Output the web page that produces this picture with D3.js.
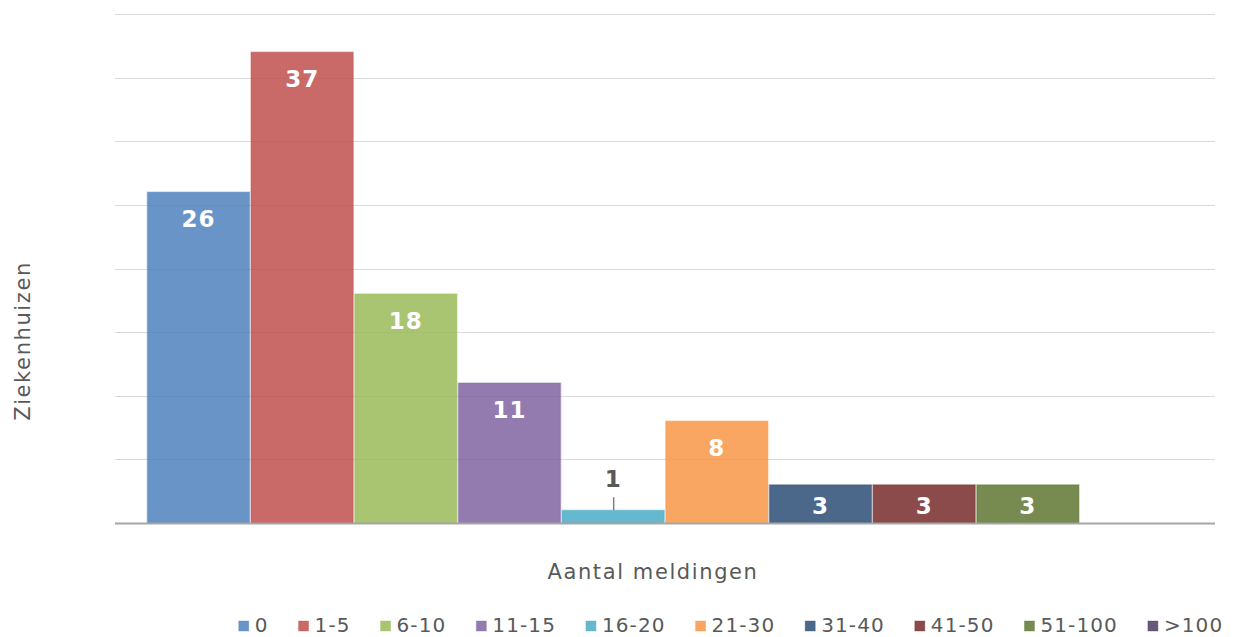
<!DOCTYPE html>
<html><head><meta charset="utf-8">
<script src="https://cdn.jsdelivr.net/npm/d3@7"></script>
<style>
html,body{margin:0;padding:0;background:#fff;}
text{font-family:"DejaVu Sans",Verdana,sans-serif;}
</style></head>
<body>
<svg id="chart" width="1239" height="637"></svg>
<script>
const categories = ["0","1-5","6-10","11-15","16-20","21-30","31-40","41-50","51-100",">100"];
const values = [26,37,18,11,1,8,3,3,3,0];
const colors = ["#4F81BD","#C0504D","#9BBB59","#8064A2","#4BACC6","#F79646","#2C4D75","#772C2A","#5F7530","#4D3B62"];
const yTicks = [0,5,10,15,20,25,30,35,40];
const xTitle = "Aantal meldingen";
const yTitle = "Ziekenhuizen";

const svg = d3.select("#chart");
const plot = {left:115, right:1215, top:14, bottom:523};

const y = d3.scaleLinear().domain([0,40]).range([plot.bottom, plot.top]);
const group = d3.scaleBand().domain(["all"]).range([plot.left, plot.right]).paddingOuter(0.0305).paddingInner(0);
const x = d3.scaleBand().domain(categories).range([group("all"), group("all")+group.bandwidth()]).padding(0);

// gridlines
svg.append("g").selectAll("line").data(yTicks.filter(d=>d>0)).join("line")
  .attr("x1",plot.left).attr("x2",plot.right)
  .attr("y1",d=>Math.round(y(d))+0.5).attr("y2",d=>Math.round(y(d))+0.5)
  .attr("stroke","#D9D9D9").attr("stroke-width",1);

// bars
const data = categories.map((c,i)=>({c, v:values[i], col:colors[i]}));
svg.append("g").selectAll("rect").data(data.filter(d=>d.v>0)).join("rect")
  .attr("x",d=>x(d.c)+0.75).attr("width",x.bandwidth()-1.5)
  .attr("y",d=>y(d.v)).attr("height",d=>y(0)-y(d.v))
  .attr("fill",d=>d.col).attr("fill-opacity",0.85)
  .attr("stroke",d=>d.col).attr("stroke-opacity",0.35).attr("stroke-width",1.5);

// baseline
svg.append("line").attr("x1",plot.left).attr("x2",plot.right)
  .attr("y1",y(0)+0.5).attr("y2",y(0)+0.5).attr("stroke","#A6A6A6").attr("stroke-width",2);

// labels
const lab = svg.append("g");
data.filter(d=>d.v>0).forEach(d=>{
  const h = y(0)-y(d.v);
  const cx = x(d.c)+x.bandwidth()/2;
  if (h < 30) {
    lab.append("line").attr("x1",cx+0.5).attr("x2",cx+0.5)
      .attr("y1",y(d.v)-13).attr("y2",y(d.v)).attr("stroke","#7F7F7F").attr("stroke-width",1.5);
    lab.append("text").attr("x",cx).attr("y",y(d.v)-23).attr("text-anchor","middle")
      .attr("font-size",23).attr("font-weight","bold").attr("fill","#595959")
      .attr("letter-spacing",1).text(d.v);
  } else {
    lab.append("text").attr("x",cx).attr("y",y(d.v)+Math.min(35,h/2+10)).attr("text-anchor","middle")
      .attr("font-size",23).attr("font-weight","bold").attr("fill","#fff")
      .attr("letter-spacing",1).text(d.v);
  }
});

// axis titles
svg.append("text").attr("x",(plot.left+plot.right)/2-12).attr("y",579).attr("text-anchor","middle")
  .attr("font-size",21).attr("letter-spacing",1.6).attr("fill","#595959").text(xTitle);
svg.append("text").attr("transform","translate(30,341) rotate(-90)").attr("text-anchor","middle")
  .attr("font-size",21).attr("letter-spacing",1.6).attr("fill","#595959").text(yTitle);

// legend
const leg = svg.append("g");
const items = [];
let cur = 0;
categories.forEach((c,i)=>{
  const g = leg.append("g");
  g.append("rect").attr("x",0).attr("y",-11).attr("width",10).attr("height",10)
    .attr("fill",colors[i]).attr("fill-opacity",0.85).attr("stroke",colors[i]).attr("stroke-opacity",0.35);
  const t = g.append("text").attr("x",16).attr("y",0).attr("font-size",20)
    .attr("letter-spacing",1.1).attr("fill","#595959").text(c);
  const w = 16 + t.node().getComputedTextLength();
  items.push({g, off:cur});
  cur += w + 30;
});
const total = cur - 30;
const start = 731 - total/2;
items.forEach(it=>it.g.attr("transform",`translate(${start+it.off},632)`));
</script>
</body></html>
